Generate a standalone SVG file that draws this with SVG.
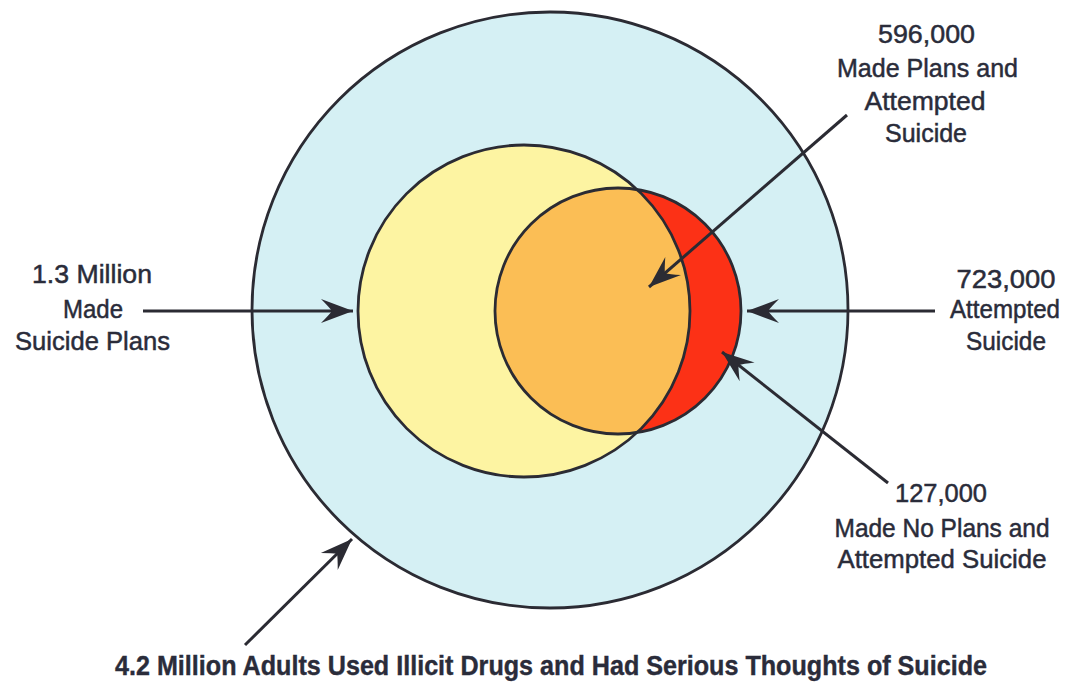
<svg xmlns="http://www.w3.org/2000/svg" width="1070" height="683" viewBox="0 0 1070 683">
  <style>
    .ring { stroke: #2b2b33; stroke-width: 2.8; }
    .edge { fill: none; stroke: #2b2b33; stroke-width: 3; }
    .lbl { font-family: "Liberation Sans", Arial, sans-serif; font-size: 26.5px; fill: #2a2c3a; stroke: #2a2c3a; stroke-width: 0.5; text-anchor: middle; }
    .cap { font-family: "Liberation Sans", Arial, sans-serif; font-size: 27px; font-weight: bold; fill: #2a2c3a; stroke: #2a2c3a; stroke-width: 0.4; text-anchor: middle; }
  </style>
  <defs>
    <marker id="arrow" markerUnits="userSpaceOnUse" markerWidth="40" markerHeight="30" viewBox="-34 -15 36 30" refX="0" refY="0" orient="auto">
      <path d="M0,0 L-32,-12 Q-24,-4 -21,0 Q-24,4 -32,12 Z" fill="#2b2b33"/>
    </marker>
    <clipPath id="clipPlans">
      <circle cx="524" cy="311" r="166"/>
    </clipPath>
  </defs>
  <rect width="1070" height="683" fill="#ffffff"/>

  <g id="node-outer">
    <circle class="ring" cx="550" cy="310" r="298" fill="#d5f0f4"/>
  </g>
  <g id="node-plans">
    <circle cx="524" cy="311" r="166" fill="#fdf4a2"/>
  </g>
  <g id="node-attempted">
    <circle cx="618" cy="311" r="123" fill="#fc3116"/>
  </g>
  <g id="node-overlap">
    <circle cx="618" cy="311" r="123" fill="#fbbe55" clip-path="url(#clipPlans)"/>
  </g>
  <g id="outlines" fill="none">
    <circle class="ring" cx="524" cy="311" r="166"/>
    <circle class="ring" cx="618" cy="311" r="123"/>
  </g>

  <g id="connectors">
    <line class="edge" x1="143" y1="311" x2="353" y2="311" marker-end="url(#arrow)"/>
    <line class="edge" x1="935" y1="311" x2="747" y2="311" marker-end="url(#arrow)"/>
    <line class="edge" x1="847" y1="115" x2="649" y2="287" marker-end="url(#arrow)"/>
    <line class="edge" x1="888" y1="483" x2="722" y2="352" marker-end="url(#arrow)"/>
    <line class="edge" x1="245" y1="645" x2="352" y2="539" marker-end="url(#arrow)"/>
  </g>

  <g id="label-plans">
    <text class="lbl" x="92" y="283" textLength="120" lengthAdjust="spacingAndGlyphs">1.3 Million</text>
    <text class="lbl" x="93" y="318" textLength="60" lengthAdjust="spacingAndGlyphs">Made</text>
    <text class="lbl" x="92.5" y="350" textLength="155" lengthAdjust="spacingAndGlyphs">Suicide Plans</text>
  </g>
  <g id="label-overlap">
    <text class="lbl" x="926.5" y="43" textLength="97" lengthAdjust="spacingAndGlyphs">596,000</text>
    <text class="lbl" x="927.5" y="77" textLength="181" lengthAdjust="spacingAndGlyphs">Made Plans and</text>
    <text class="lbl" x="925" y="110" textLength="121" lengthAdjust="spacingAndGlyphs">Attempted</text>
    <text class="lbl" x="926" y="142" textLength="82" lengthAdjust="spacingAndGlyphs">Suicide</text>
  </g>
  <g id="label-attempted">
    <text class="lbl" x="1006" y="288" textLength="99" lengthAdjust="spacingAndGlyphs">723,000</text>
    <text class="lbl" x="1005" y="318" textLength="110" lengthAdjust="spacingAndGlyphs">Attempted</text>
    <text class="lbl" x="1006" y="350" textLength="80" lengthAdjust="spacingAndGlyphs">Suicide</text>
  </g>
  <g id="label-noplans">
    <text class="lbl" x="941" y="502" textLength="92" lengthAdjust="spacingAndGlyphs">127,000</text>
    <text class="lbl" x="942" y="537" textLength="215" lengthAdjust="spacingAndGlyphs">Made No Plans and</text>
    <text class="lbl" x="942" y="568" textLength="209" lengthAdjust="spacingAndGlyphs">Attempted Suicide</text>
  </g>
  <g id="label-outer">
    <text class="cap" x="551" y="675" textLength="872" lengthAdjust="spacingAndGlyphs">4.2 Million Adults Used Illicit Drugs and Had Serious Thoughts of Suicide</text>
  </g>
</svg>
